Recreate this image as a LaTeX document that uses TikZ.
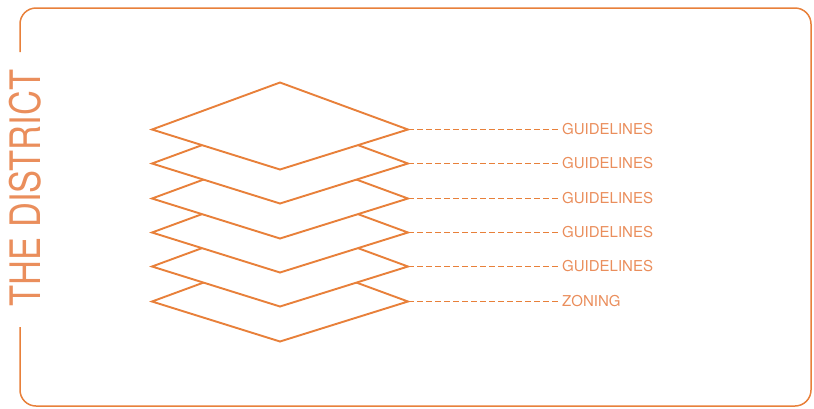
\documentclass[tikz,border=0pt]{standalone}
\usepackage{fontspec}
\setmainfont{TeX Gyre Heros}
\newfontfamily\titlefont{TeX Gyre Heros}[FakeStretch=0.82]
\usepackage{tikz}
\usetikzlibrary{calc,positioning}
\definecolor{districtorange}{RGB}{232,128,58}
\definecolor{labelorange}{RGB}{234,142,92}
\tikzset{
  layer/.style={draw=districtorange, line width=1.9pt, fill=white, line join=miter},
  leader/.style={draw=districtorange, line width=1pt, dash pattern=on 6pt off 3pt},
  layerlabel/.style={text=labelorange, font=\fontsize{15}{17}\selectfont, inner sep=3pt, anchor=west}
}
\begin{document}
\begin{tikzpicture}[x=1pt,y=-1pt]
        % Page size
        \useasboundingbox (0,0) rectangle (814,408);
        % Frame with a gap for the title
        \draw[districtorange, line width=1.5pt, rounded corners=16pt]
          (20,327) -- (20,406) -- (811,406) -- (811,8) -- (20,8) -- (20,52);
        \node[text=labelorange, rotate=90, inner sep=0pt] (title) at (25,188)
          {\titlefont\fontsize{42}{44}\selectfont THE DISTRICT};
        % Layers, drawn from the bottom up
        \foreach \i/\txt in {5/ZONING,4/GUIDELINES,3/GUIDELINES,2/GUIDELINES,1/GUIDELINES,0/GUIDELINES}{
          \pgfmathsetmacro\ty{round(129+34.3*\i)+0.5}
          \coordinate (tip\i) at (408,\ty);
          \draw[layer] (152,\ty) -- (280,\ty-47) -- (tip\i)
            -- (280,\ty+40) -- cycle;
          \node[layerlabel] (label\i) at (559,\ty) {\txt};
          \draw[leader] (tip\i) -- (label\i.west);
        }
      \end{tikzpicture}
\end{document}
